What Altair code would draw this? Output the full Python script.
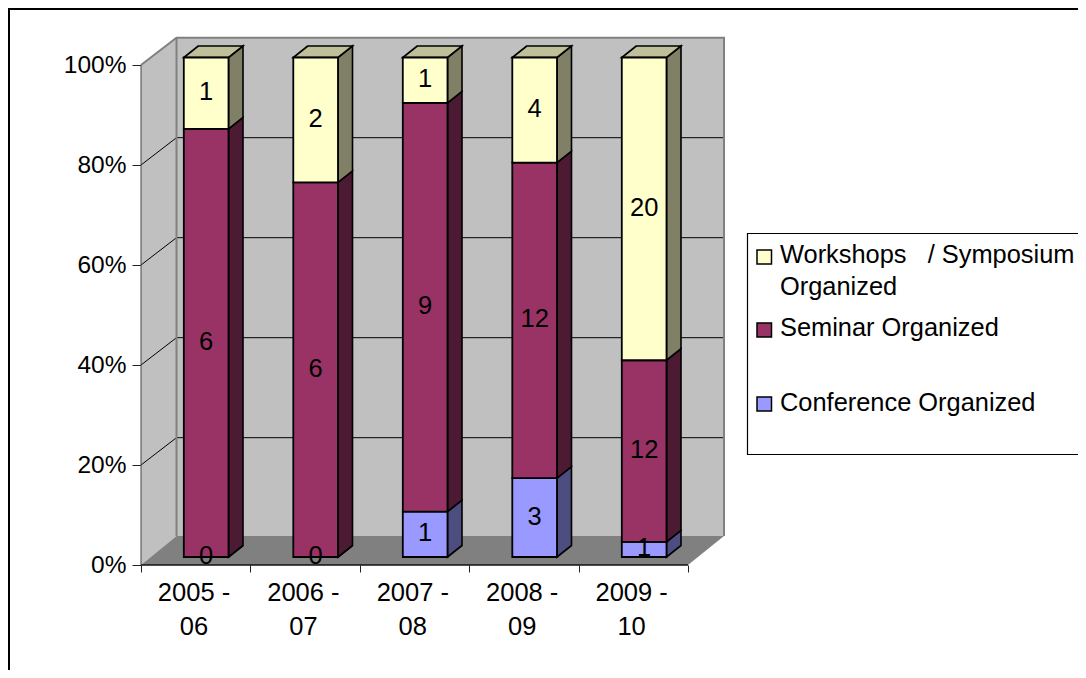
import altair as alt
import pandas as pd

years = ["2005 -\n06", "2006 -\n07", "2007 -\n08", "2008 -\n09", "2009 -\n10"]
conference = [0, 0, 1, 3, 1]
seminar = [6, 6, 9, 12, 12]
workshops = [1, 2, 1, 4, 20]
series_names = ["Conference Organized", "Seminar Organized", "Workshops\u00a0\u00a0\u00a0/ Symposium"]
front_colors = ["#9999FF", "#993366", "#FFFFCC"]
side_colors = ["#4D4D80", "#4D1A33", "#808066"]
top_color = "#BFBF99"
y_ticks = [0, 20, 40, 60, 80, 100]
x_ticks = [0, 1, 2, 3, 4, 5]
grid_values = [20, 40, 60, 80]

FONT = "Liberation Sans"
FS = 25.5
AFS = 24.5
LFS = 25.4
PAD_L = 133
W, H = 1070, 662
VW = W - PAD_L
CAT = 109.4
PCT = 5.0


def xu(px):
    return (px - 141) / CAT


def yu(py):
    return (565 - py) / PCT


x_scale = alt.Scale(domain=[0, VW / CAT], range=[0, VW], nice=False, zero=False)
y_scale = alt.Scale(domain=[yu(8 + H), yu(8)], range=[H, 0], nice=False, zero=False)
x_axis = alt.Axis(
    values=x_ticks, labels=False, domain=False, grid=False, tickSize=7,
    tickColor="#222222", tickWidth=1, offset=-(8 + H - 565))
y_axis = alt.Axis(
    values=y_ticks, labelExpr="datum.value + '%'", domain=False, grid=False, tickSize=9,
    tickColor="#222222", tickWidth=1, labelFont=FONT, labelFontSize=AFS, labelColor="black",
    labelPadding=6)


def X(f="x", **k):
    return alt.X(f + ":Q", scale=x_scale, axis=x_axis, title=None, **k)


def Y(f="y", **k):
    return alt.Y(f + ":Q", scale=y_scale, axis=y_axis, title=None, stack=None, **k)


# bar geometry in scale units, derived from the counts
BAR_X0, BAR_STEP, BAR_W = xu(183.8), 1.0009, 44.7 / CAT
BAR_Y0, BAR_K = yu(557), 0.999
DEP_X, DEP_Y = 14.5 / CAT, 11.5 / PCT
front, side, top = [], [], []
for i in range(len(years)):
    vals = [conference[i], seminar[i], workshops[i]]
    total = sum(vals)
    cum = 0
    x0 = BAR_X0 + i * BAR_STEP
    x1 = x0 + BAR_W
    for s, v in zip(series_names, vals):
        lo = BAR_Y0 + BAR_K * 100 * cum / total
        cum += v
        hi = BAR_Y0 + BAR_K * 100 * cum / total
        front.append(dict(x=x0, x2=x1, y=lo, y2=hi, s=s, n=v, tx=(x0 + x1) / 2, ty=(lo + hi) / 2 + 0.2))
        key = f"{i}-{s}"
        side.append(dict(x=x1, y=lo, y2=hi, s=s, k=key))
        side.append(dict(x=x1 + DEP_X, y=lo + DEP_Y, y2=hi + DEP_Y, s=s, k=key))
    top.append(dict(y=hi, x=x0, x2=x1, k=i))
    top.append(dict(y=hi + DEP_Y, x=x0 + DEP_X, x2=x1 + DEP_X, k=i))
front, side, top = pd.DataFrame(front), pd.DataFrame(side), pd.DataFrame(top)

color = alt.Scale(domain=series_names, range=front_colors)
color_side = alt.Scale(domain=series_names, range=side_colors)

# 3-D box of the plot
WX, WXR = xu(176.5), xu(724)
WD0, WD1 = yu(536), yu(37.7)
F0, F1 = 0, 100

outer = alt.Chart(pd.DataFrame([dict(x=xu(9), x2=xu(1200), y=yu(9), y2=yu(800))])).mark_rect(
    fillOpacity=0, stroke="black", strokeWidth=2, clip=False
).encode(x=X(), x2="x2:Q", y=Y(), y2="y2:Q")

left_wall = alt.Chart(pd.DataFrame([dict(x=0, y=F0, y2=F1), dict(x=WX, y=WD0, y2=WD1)])).mark_area(
    color="#C0C0C0").encode(x=X(), y=Y(), y2="y2:Q")
back_wall = alt.Chart(pd.DataFrame([dict(x=WX, x2=WXR, y=WD0, y2=WD1)])).mark_rect(
    color="#C0C0C0").encode(x=X(), x2="x2:Q", y=Y(), y2="y2:Q")
floor = alt.Chart(pd.DataFrame([dict(y=F0, x=0, x2=5), dict(y=WD0, x=WX, x2=WXR)])).mark_area(
    orient="horizontal", color="#808080").encode(y=Y(), x=X(), x2="x2:Q")

grid_rows = []
for v in grid_values:
    dy = WD1 - F1
    grid_rows += [dict(g=v, o=0, x=0, y=v), dict(g=v, o=1, x=WX, y=v + dy), dict(g=v, o=2, x=WXR, y=v + dy)]
grid = alt.Chart(pd.DataFrame(grid_rows)).mark_line(color="black", strokeWidth=1).encode(
    x=X(), y=Y(), detail="g:N", order="o:Q")

outline_rows = [dict(o=0, x=0, y=F1), dict(o=1, x=WX, y=WD1), dict(o=2, x=WXR, y=WD1), dict(o=3, x=WXR, y=WD0)]
outline = alt.Chart(pd.DataFrame(outline_rows)).mark_line(color="#808080", strokeWidth=2).encode(
    x=X(), y=Y(), order="o:Q")
inner_edge = alt.Chart(pd.DataFrame([dict(o=0, x=WX, y=WD1), dict(o=1, x=WX, y=WD0)])).mark_line(
    color="#808080", strokeWidth=2).encode(x=X(), y=Y(), order="o:Q")
y_line = alt.Chart(pd.DataFrame([dict(o=0, x=0, y=F1), dict(o=1, x=0, y=F0)])).mark_line(
    color="#444444", strokeWidth=1).encode(x=X(), y=Y(), order="o:Q")
x_line = alt.Chart(pd.DataFrame([dict(o=0, x=0, y=F0), dict(o=1, x=5, y=F0)])).mark_line(
    color="#111111", strokeWidth=1.5).encode(x=X(), y=Y(), order="o:Q")

side_faces = alt.Chart(side).mark_area(stroke="black", strokeWidth=1.6).encode(
    x=X(), y=Y(), y2="y2:Q", color=alt.Color("s:N", scale=color_side, legend=None), detail="k:N")
top_faces = alt.Chart(top).mark_area(orient="horizontal", fill=top_color, stroke="black", strokeWidth=1.6).encode(
    y=Y(), x=X(), x2="x2:Q", detail="k:N")
front_faces = alt.Chart(front).mark_rect(stroke="black", strokeWidth=1.8).encode(
    x=X(), x2="x2:Q", y=Y(), y2="y2:Q", color=alt.Color("s:N", scale=color, legend=None))
labels = alt.Chart(front).mark_text(font=FONT, fontSize=FS, color="black", baseline="middle", align="center").encode(
    x=X("tx"), y=Y("ty"), text="n:Q")

cat_df = pd.DataFrame({"x": [xu(194) + i * 1.0 for i in range(len(years))], "y": [yu(593)] * len(years), "t": years})
cat_labels = alt.Chart(cat_df).mark_text(
    font=FONT, fontSize=FS, color="black", baseline="middle", align="center", lineBreak="\n", lineHeight=34
).encode(x=X(), y=Y(), text="t:N")

# legend box
leg_box = alt.Chart(pd.DataFrame([dict(x=xu(747.5), x2=xu(1200), y=yu(233.5), y2=yu(454.5))])).mark_rect(
    fill="white", stroke="black", strokeWidth=1.2, clip=False).encode(x=X(), x2="x2:Q", y=Y(), y2="y2:Q")
leg_sym = alt.Chart(pd.DataFrame([
    dict(x=xu(757), x2=xu(771.5), y=yu(250), y2=yu(264), s=series_names[2]),
    dict(x=xu(757), x2=xu(771.5), y=yu(323), y2=yu(337), s=series_names[1]),
    dict(x=xu(757), x2=xu(771.5), y=yu(397), y2=yu(411), s=series_names[0]),
])).mark_rect(stroke="black", strokeWidth=1.5).encode(
    x=X(), x2="x2:Q", y=Y(), y2="y2:Q", color=alt.Color("s:N", scale=color, legend=None))
leg_text = alt.Chart(pd.DataFrame([
    dict(x=xu(780), y=yu(254.5), t=series_names[2]),
    dict(x=xu(780), y=yu(286.5), t="Organized"),
    dict(x=xu(780), y=yu(328), t=series_names[1]),
    dict(x=xu(780), y=yu(402.5), t=series_names[0]),
])).mark_text(font=FONT, fontSize=LFS, color="black", align="left", baseline="middle").encode(
    x=X(), y=Y(), text="t:N")

chart = alt.layer(
    outer, left_wall, back_wall, floor, grid, outline, inner_edge, y_line, x_line,
    side_faces, top_faces, front_faces, labels, cat_labels, leg_box, leg_sym, leg_text,
).resolve_scale(color="independent").properties(
    width=VW, height=H, autosize="none",
    padding={"left": PAD_L, "top": 0, "right": 0, "bottom": 0},
    background="white",
).configure_view(stroke=None)

chart.save("out.html", embed_options={"renderer": "svg", "actions": False})
